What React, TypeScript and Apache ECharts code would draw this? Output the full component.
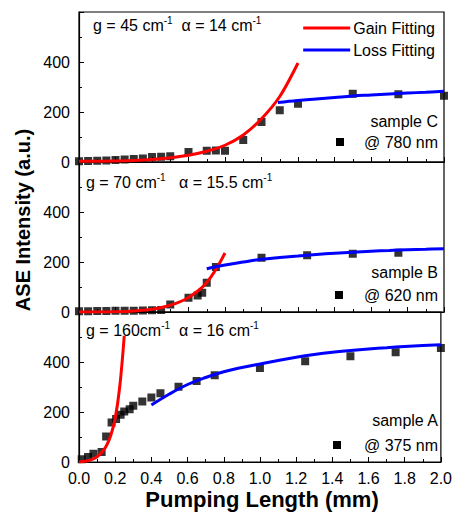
import React, { useEffect, useRef } from "react";
import * as echarts from "echarts";

const xTicks = [0, 0.2, 0.4, 0.6, 0.8, 1.0, 1.2, 1.4, 1.6, 1.8, 2.0];

// Sample C @ 780 nm
const pointsC = [
  [0, 3], [0.05, 4], [0.1, 5], [0.15, 6], [0.2, 8], [0.25, 10], [0.3, 12], [0.35, 14],
  [0.4, 20], [0.45, 21], [0.5, 23], [0.6, 40], [0.7, 45], [0.75, 46], [0.8, 45],
  [0.9, 88], [1.0, 160], [1.1, 207], [1.2, 233], [1.5, 273], [1.75, 271], [2.0, 265],
];
const gainC = [
  [0, 3], [0.1, 3], [0.2, 4], [0.3, 6], [0.4, 10], [0.5, 17], [0.6, 27], [0.7, 43],
  [0.8, 67], [0.9, 108], [1.0, 173], [1.1, 262], [1.2, 396],
];
const lossC = [
  [1.09, 238], [1.2, 246], [1.3, 252], [1.4, 258], [1.5, 264], [1.6, 268],
  [1.7, 272], [1.8, 276], [1.9, 279], [2.0, 283],
];

// Sample B @ 620 nm
const pointsB = [
  [0, 3], [0.05, 3], [0.1, 4], [0.15, 4], [0.2, 5], [0.25, 5], [0.3, 5], [0.35, 6],
  [0.4, 7], [0.45, 8], [0.5, 30], [0.6, 57], [0.65, 66], [0.675, 77], [0.7, 117],
  [0.75, 180], [1.0, 217], [1.25, 227], [1.5, 233], [1.75, 237],
];
const gainB = [
  [0, 0], [0.1, 0], [0.2, 1], [0.3, 4], [0.4, 11], [0.5, 27], [0.6, 58], [0.7, 118],
  [0.8, 236],
];
const lossB = [
  [0.7, 173], [0.8, 188], [0.9, 200], [1.0, 211], [1.1, 218], [1.2, 224], [1.3, 230],
  [1.4, 235], [1.5, 239], [1.6, 243], [1.7, 246], [1.8, 249], [1.9, 251], [2.0, 253],
];

// Sample A @ 375 nm
const pointsA = [
  [0.015, 11], [0.05, 20], [0.08, 33], [0.125, 40], [0.15, 102], [0.18, 158],
  [0.205, 172], [0.23, 189], [0.25, 202], [0.28, 211], [0.3, 225], [0.35, 242],
  [0.4, 258], [0.45, 275], [0.55, 301], [0.65, 324], [0.75, 347], [1.0, 376],
  [1.25, 403], [1.5, 423], [1.75, 439], [2.0, 456],
];
const gainA = [
  [0, 0], [0.025, 2], [0.05, 5], [0.075, 11], [0.1, 21], [0.125, 38], [0.15, 63],
  [0.175, 105], [0.2, 175], [0.225, 300], [0.25, 505],
];
const lossA = [
  [0.4, 228], [0.5, 272], [0.6, 310], [0.7, 338], [0.8, 361], [0.9, 378], [1.0, 392],
  [1.1, 406], [1.2, 419], [1.3, 430], [1.4, 439], [1.5, 446], [1.6, 452], [1.7, 457],
  [1.8, 462], [1.9, 466], [2.0, 469],
];

const yTicks = [0, 200, 400, 600];

const FONT = "Arial, 'Liberation Sans', sans-serif";

const panels = [
  { points: pointsC, gain: gainC, loss: lossC },
  { points: pointsB, gain: gainB, loss: lossB },
  { points: pointsA, gain: gainA, loss: lossA },
];

const annotations = [
  { x: 93, y: 25, parts: [["n", "g = 45 cm"], ["s", "-1"], ["n", "  α = 14 cm"], ["s", "-1"]] },
  { x: 86, y: 182, parts: [["n", "g = 70 cm"], ["s", "-1"], ["n", "   α = 15.5 cm"], ["s", "-1"]] },
  { x: 86, y: 330, parts: [["n", "g = 160cm"], ["s", "-1"], ["n", "  α = 16 cm"], ["s", "-1"]] },
];

const sampleLabels = [
  { name: "sample C", wl: "@ 780 nm", y1: 121, y2: 142, sq: 340 },
  { name: "sample B", wl: "@ 620 nm", y1: 272, y2: 295, sq: 339 },
  { name: "sample A", wl: "@ 375 nm", y1: 420, y2: 445, sq: 337 },
];

export default function App() {
  const ref = useRef<HTMLDivElement>(null);
  useEffect(() => {
    if (!ref.current) return;
    const chart = echarts.init(ref.current, undefined, { renderer: "svg" });
    const tops = [12, 162, 312];
    const grids = tops.map((t) => ({
      left: 79, width: 365, top: t, height: 150,
      show: true, borderColor: "#000", borderWidth: 1.2, backgroundColor: "transparent",
    }));
    const xAxes = tops.map((_, i) => ({
      type: "value", gridIndex: i, min: xTicks[0], max: xTicks[xTicks.length - 1], interval: 0.2,
      axisLine: { show: true, lineStyle: { color: "#000", width: 1.2 } },
      axisTick: { show: true, inside: true, length: 5, lineStyle: { color: "#000" } },
      minorTick: { show: true, splitNumber: 2, length: 3, lineStyle: { color: "#000" } },
      splitLine: { show: false },
      axisLabel: {
        show: i === 2, fontSize: 16, color: "#000", fontFamily: FONT, margin: 8,
        formatter: (v: number) => v.toFixed(1),
      },
    }));
    const yAxes = tops.map((_, i) => ({
      type: "value", gridIndex: i, min: yTicks[0], max: yTicks[yTicks.length - 1], interval: 200,
      axisLine: { show: true, lineStyle: { color: "#000", width: 1.2 } },
      axisTick: { show: true, inside: true, length: 5, lineStyle: { color: "#000" } },
      minorTick: { show: true, splitNumber: 2, length: 3, lineStyle: { color: "#000" } },
      splitLine: { show: false },
      axisLabel: {
        fontSize: 16, color: "#000", fontFamily: FONT, margin: 9,
        formatter: (v: number) => (v === 600 ? "" : String(v)),
      },
    }));
    const series: any[] = [];
    panels.forEach((p, i) => {
      series.push({
        type: "scatter", xAxisIndex: i, yAxisIndex: i, data: p.points,
        symbol: "rect", symbolSize: 8, itemStyle: { color: "#000" }, z: 3,
      });
      series.push({
        name: "Gain Fitting", type: "line", xAxisIndex: i, yAxisIndex: i, data: p.gain,
        smooth: 0.4, showSymbol: false, symbol: "none",
        lineStyle: { color: "#ff0000", width: 3 }, itemStyle: { color: "#ff0000" }, z: 4,
      });
      series.push({
        name: "Loss Fitting", type: "line", xAxisIndex: i, yAxisIndex: i, data: p.loss,
        smooth: 0.4, showSymbol: false, symbol: "none",
        lineStyle: { color: "#0000ff", width: 3 }, itemStyle: { color: "#0000ff" }, z: 4,
      });
    });

    const rich = {
      n: { fontSize: 16, fontFamily: FONT, color: "#000", lineHeight: 20 },
      s: { fontSize: 10, fontFamily: FONT, color: "#000", verticalAlign: "top", lineHeight: 12 },
    };
    const graphics: any[] = [];
    annotations.forEach((a) => {
      graphics.push({
        type: "text", x: a.x, y: a.y, z: 10,
        style: {
          text: a.parts.map(([k, t]) => `{${k}|${t}}`).join(""),
          rich, verticalAlign: "middle", align: "left",
        },
      });
    });
    sampleLabels.forEach((s) => {
      graphics.push({
        type: "text", x: 438, y: s.y1, z: 10,
        style: { text: s.name, fontSize: 16, fontFamily: FONT, fill: "#000", align: "right", verticalAlign: "middle" },
      });
      graphics.push({
        type: "text", x: 438, y: s.y2, z: 10,
        style: { text: s.wl, fontSize: 16, fontFamily: FONT, fill: "#000", align: "right", verticalAlign: "middle" },
      });
      graphics.push({
        type: "rect", z: 10, shape: { x: s.sq - 4, y: s.y2 - 4, width: 8, height: 8 },
        style: { fill: "#000" },
      });
    });
    graphics.push({
      type: "text", x: 23, y: 220, rotation: Math.PI / 2, z: 10,
      style: {
        text: "ASE Intensity (a.u.)", fontSize: 20, fontWeight: "bold", fontFamily: FONT,
        fill: "#000", align: "center", verticalAlign: "middle",
      },
    });
    graphics.push({
      type: "text", x: 262, y: 499, z: 10,
      style: {
        text: "Pumping Length (mm)", fontSize: 22, fontWeight: "bold", fontFamily: FONT,
        fill: "#000", align: "center", verticalAlign: "middle",
      },
    });

    chart.setOption({
      animation: false,
      backgroundColor: "#fff",
      grid: grids,
      xAxis: xAxes,
      yAxis: yAxes,
      series,
      legend: {
        data: ["Gain Fitting", "Loss Fitting"],
        orient: "vertical", right: 15, top: 15, itemGap: 6,
        itemWidth: 47, itemHeight: 3, icon: "rect",
        textStyle: { fontSize: 16, fontFamily: FONT, color: "#000", padding: [0, 0, 0, -2] },
      },
      graphic: graphics,
    });
    return () => chart.dispose();
  }, []);
  return (
    <div
      ref={ref}
      style={{ position: "fixed", left: 0, top: 0, width: 455, height: 513 }}
    />
  );
}
